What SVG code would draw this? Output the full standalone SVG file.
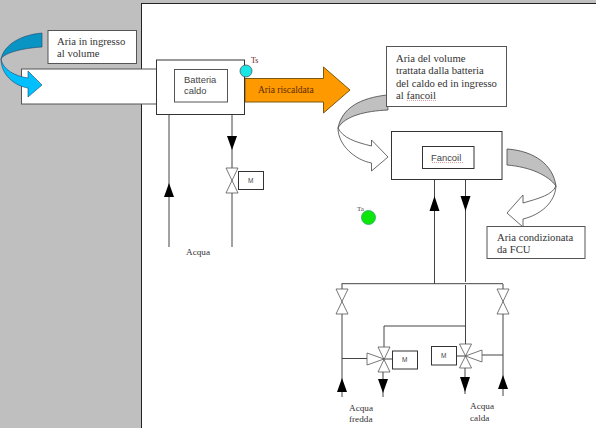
<svg xmlns="http://www.w3.org/2000/svg" width="596" height="428" viewBox="0 0 596 428">
<style>
.box{fill:#fff;stroke:#333;stroke-width:1}
.lbl{fill:#fff;stroke:#555;stroke-width:1}
.line{fill:none;stroke:#444;stroke-width:1}
.v{fill:#fff;stroke:#555;stroke-width:.8}
.tip{fill:#000;stroke:none}
.s{font-family:"Liberation Serif",serif;font-size:10.7px;fill:#333}
.q{font-family:"Liberation Serif",serif;font-size:9.2px;fill:#333}
.a{font-family:"Liberation Sans",sans-serif;font-size:9.4px;fill:#444}
.m{font-family:"Liberation Sans",sans-serif;font-size:6.5px;fill:#444}
.w{fill:#fff;stroke:#444;stroke-width:.8}
.g{fill:#c0c0c0;stroke:#444;stroke-width:.8}
.sq{fill:none;stroke:#c77;stroke-width:.7;stroke-dasharray:1 1}
</style>
<rect width="596" height="428" fill="#bfbfbf"/>
<rect id="panel" x="141.500" y="3.500" width="460" height="430" fill="#fff" stroke="#222"/>
<g id="duct"><rect x="21.500" y="69" width="136" height="35" fill="#fff" stroke="#555"/></g>
<g id="connectors">
<path class="line" d="M169 114V247M232 115V168M232 193V247"/>
<path class="tip" d="M169 183l5 14h-10zM227 136h10l-5 14z"/>
<path class="line" d="M434.500 179.500V284M465.500 179.500V282M465.500 285V344M341.500 283.700H503M342 284V289M342 314V397M503 284V289M503 314V396M465.500 326H384V347M342 358.500H367M383 372V397M465 368V394M482 355H503M392 359H384M456.500 356H466"/>
<path class="tip" d="M434.500 196l5 15h-10zM460.500 196h10l-5 15zM342 378l5 14h-10zM503 375l5 14h-10zM378 379h10l-5 14zM460 377h10l-5 15z"/>
</g>
<g id="arrow-in">
<path d="M42 33C20 35 4 45 1 59C5 52 25 48 42 47Z" fill="#0a94c4" stroke="#246" stroke-width=".6"/>
<path d="M1 59C1 75 15 86 28 88V97L42 85L28 71V78C15 76 3 70 1 59Z" fill="#00bfff" stroke="#246" stroke-width=".6"/>
</g>
<g id="arrow-heated">
<path d="M245 78.500H323.500V67L350 90L323.500 113V102H245Z" fill="#ff9900" stroke="#7a5a10"/>
<text x="258" y="93" font-family="Liberation Serif,serif" font-size="9.500" fill="#5a2a00">Aria riscaldata</text>
</g>
<g id="arrow-to-fancoil">
<path class="g" d="M387 95C360 98 342 108 338 128C345 116 365 111 388 110Z"/>
<path class="w" d="M338 128C338 145 355 160 371.500 163V171L388 157L371.500 140V146C355 142 343 138 338 128Z"/>
</g>
<g id="arrow-from-fancoil">
<path class="g" d="M507 149C535 151 553 165 556 186C548 175 530 167 507 165Z"/>
<path class="w" d="M556 186C555 203 540 215 523 219V227L507 213L523 195V203C540 198 552 195 556 186Z"/>
</g>
<g id="label-in"><rect class="lbl" x="48" y="30.500" width="88.500" height="33"/><text class="s" x="57" y="45">Aria in ingresso</text><text class="s" x="57" y="57">al volume</text></g>
<g id="batteria"><rect class="box" x="156.500" y="60" width="88" height="54.500"/><rect class="lbl" x="174.500" y="69.500" width="53" height="32.500"/><text class="a" x="184" y="83">Batteria</text><text class="a" x="184" y="94">caldo</text></g>
<g id="sensor-ts"><circle cx="246" cy="71" r="6" fill="#19e6e6" stroke="#555" stroke-width=".8"/><text x="251" y="63" font-family="Liberation Serif,serif" font-size="8" fill="#622">Ts</text></g>
<g id="valve-batteria"><path class="v" d="M226 168H238L226 193H238Z"/><rect class="box" x="238.500" y="171.500" width="25" height="18"/><text class="m" x="248" y="183">M</text></g>
<g id="label-acqua"><text class="q" x="186" y="255">Acqua</text></g>
<g id="label-volume"><rect class="lbl" x="386.500" y="46.500" width="120" height="60"/><text class="s" x="396" y="62">Aria del volume</text><text class="s" x="396" y="74">trattata dalla batteria</text><text class="s" x="396" y="87">del caldo ed in ingresso</text><text class="s" x="396" y="99">al fancoil</text><path class="sq" d="M407 100.500H436"/></g>
<g id="fancoil"><rect class="box" x="391.500" y="131.500" width="110.500" height="48"/><rect class="box" x="422.500" y="146.500" width="51.500" height="22"/><text class="a" x="431" y="161">Fancoil</text><path class="sq" d="M432 162.500H463"/></g>
<g id="sensor-ta"><circle cx="368.500" cy="217.500" r="7" fill="#0be60b" stroke="#2a6" stroke-width=".8"/><text x="357" y="211" font-family="Liberation Serif,serif" font-size="7" fill="#444">Ta</text></g>
<g id="label-fcu"><rect class="lbl" x="487" y="226.500" width="98" height="32"/><text class="s" x="497" y="241">Aria condizionata</text><text class="s" x="497" y="253">da FCU</text></g>
<g id="valve-left"><path class="v" d="M336 289H348L336 314H348Z"/></g>
<g id="valve-right"><path class="v" d="M497 289H509L497 314H509Z"/></g>
<g id="valve-3way-cold"><path class="v" d="M378 347H390L378 372H390ZM367 353V365L384 359Z"/><rect class="box" x="392.500" y="351" width="25" height="18"/><text class="m" x="402" y="362">M</text></g>
<g id="valve-3way-hot"><path class="v" d="M459.500 344H471.500L459.500 368H471.500ZM482 350V362L465.500 356Z"/><rect class="box" x="431.500" y="346.500" width="25" height="18.500"/><text class="m" x="441" y="358">M</text></g>
<g id="label-fredda"><text class="q" x="349" y="411">Acqua</text><text class="q" x="349" y="422">fredda</text></g>
<g id="label-calda"><text class="q" x="470" y="409">Acqua</text><text class="q" x="470" y="421">calda</text></g>
</svg>
